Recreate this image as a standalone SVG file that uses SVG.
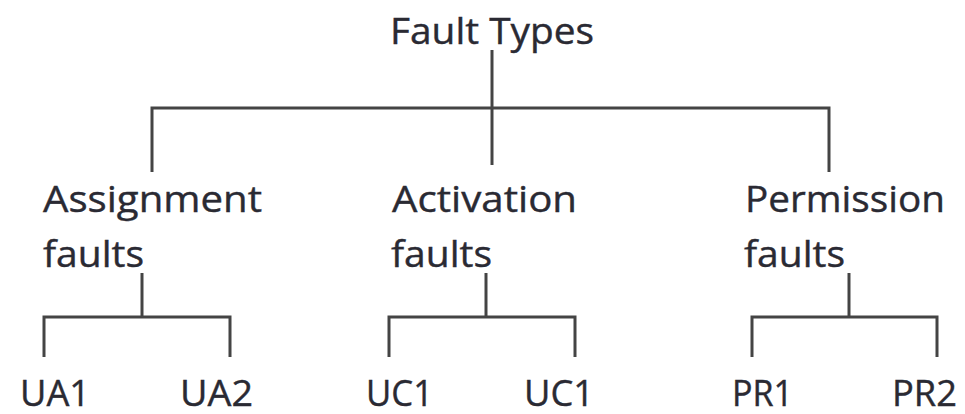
<svg xmlns="http://www.w3.org/2000/svg" width="965" height="414" viewBox="0 0 965 414">
  <style>
    .bg { fill: #ffffff; }
    .lbl { font-family: "Open Sans", "Noto Sans", "Liberation Sans", sans-serif; font-size: 37px; fill: #2a2a33; stroke: #2a2a33; stroke-width: 0.4; }
    .leaf { font-size: 36px; }
    .wire { fill: none; stroke: #444444; stroke-width: 3; stroke-linecap: butt; stroke-linejoin: miter; }
  </style>
  <rect class="bg" x="0" y="0" width="965" height="414"/>

  <!-- connectors -->
  <g id="connectors">
    <!-- root to three categories -->
    <path class="wire" d="M492,50 V165"/>
    <path class="wire" d="M152,172 V108 H829 V172"/>
    <!-- assignment faults to leaves -->
    <path class="wire" d="M142,273 V317"/>
    <path class="wire" d="M44,357 V317 H230 V357"/>
    <!-- activation faults to leaves -->
    <path class="wire" d="M486,273 V317"/>
    <path class="wire" d="M389,357 V317 H575 V357"/>
    <!-- permission faults to leaves -->
    <path class="wire" d="M849,273 V317"/>
    <path class="wire" d="M752,357 V317 H937 V357"/>
  </g>

  <!-- root -->
  <g id="fault-types">
    <text class="lbl" x="390" y="44" textLength="204" lengthAdjust="spacingAndGlyphs">Fault Types</text>
  </g>

  <!-- categories -->
  <g id="assignment-faults">
    <text class="lbl" x="43" y="212" textLength="219" lengthAdjust="spacingAndGlyphs">Assignment</text>
    <text class="lbl" x="43" y="267" textLength="101" lengthAdjust="spacingAndGlyphs">faults</text>
  </g>
  <g id="activation-faults">
    <text class="lbl" x="392" y="212" textLength="185" lengthAdjust="spacingAndGlyphs">Activation</text>
    <text class="lbl" x="391" y="267" textLength="101" lengthAdjust="spacingAndGlyphs">faults</text>
  </g>
  <g id="permission-faults">
    <text class="lbl" x="745" y="212" textLength="200" lengthAdjust="spacingAndGlyphs">Permission</text>
    <text class="lbl" x="744" y="267" textLength="101" lengthAdjust="spacingAndGlyphs">faults</text>
  </g>

  <!-- leaves -->
  <g id="ua1"><text class="lbl leaf" x="20" y="406" textLength="70" lengthAdjust="spacingAndGlyphs">UA1</text></g>
  <g id="ua2"><text class="lbl leaf" x="180" y="406" textLength="73" lengthAdjust="spacingAndGlyphs">UA2</text></g>
  <g id="uc1-a"><text class="lbl leaf" x="366" y="406" textLength="67" lengthAdjust="spacingAndGlyphs">UC1</text></g>
  <g id="uc1-b"><text class="lbl leaf" x="524" y="406" textLength="70" lengthAdjust="spacingAndGlyphs">UC1</text></g>
  <g id="pr1"><text class="lbl leaf" x="732" y="406" textLength="61" lengthAdjust="spacingAndGlyphs">PR1</text></g>
  <g id="pr2"><text class="lbl leaf" x="892" y="406" textLength="65" lengthAdjust="spacingAndGlyphs">PR2</text></g>
</svg>
